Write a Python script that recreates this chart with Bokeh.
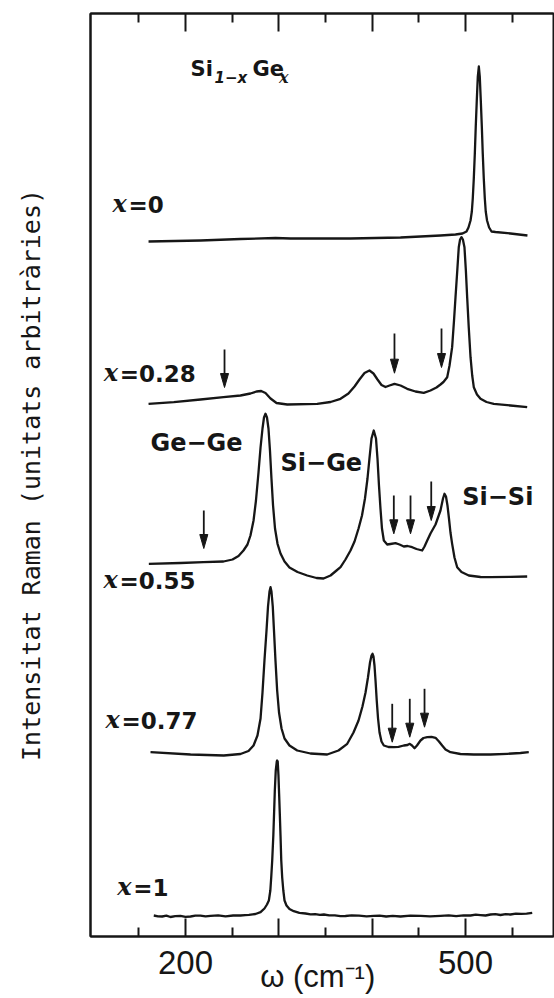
from bokeh.plotting import figure
from bokeh.models import Range1d, LinearAxis, FixedTicker, Label
from bokeh.embed import file_html
from bokeh.resources import INLINE

# ---------------- axis ticks ----------------
major_ticks = [200, 300, 400, 500]
minor_ticks = [150, 250, 350, 450, 550]
tick_labels = {200: "200", 300: "", 400: "", 500: "500"}

# ---------------- spectra (omega in cm^-1, intensity in arbitrary units above each baseline) ----------------
compositions = ["0", "0.28", "0.55", "0.77", "1"]
offsets = [695, 532, 359, 181, 20]

w_x000 = [160.4, 216.1, 258.9, 296.4, 312.5, 376.8, 430.4, 473.2, 489.3, 496.8,
          501.1, 503.2, 505.4, 506.8, 507.8, 508.9, 510.0, 511.0, 512.1, 513.2, 514.3,
          515.3, 516.4, 517.5, 518.5, 519.6, 520.7, 521.7, 523.1, 525.3, 527.9,
          532.1, 548.2, 566.4]
i_x000 = [0, 1, 2.5, 3.5, 3, 3, 4, 6, 7, 8,
          10, 14, 21, 30, 43, 63, 88, 115, 141, 165, 175,
          165, 141, 115, 88, 63, 43, 30, 21, 14, 10,
          9.5, 8, 6]

w_x028 = [160.4, 187.5, 216.1, 240.7, 258.9, 269.6, 276.1, 281.1, 285.7, 291.1, 297.5, 309.0,
          341.1, 355.4, 366.1, 374.6, 381.1, 386.4, 391.8, 397.1, 401.4, 405.7, 410.0, 414.3,
          418.6, 423.9, 430.4, 437.5, 446.4, 455.3, 462.5, 468.9, 473.2, 476.4, 480.4, 482.9,
          485.7, 487.7, 489.3, 491.2, 492.8, 494.2, 495.7, 497.2, 498.9, 500.4, 501.8, 503.5,
          505.4, 507.2, 508.9, 512.3, 516.1, 522.5, 530.3, 548.2, 566.1]
i_x028 = [0.7, 2.3, 5, 7.3, 9, 11, 13, 13.5, 11.5, 6, 1.5, 0,
          0.7, 2.5, 5.7, 11, 18, 25, 31.5, 34, 31, 25, 19.5, 17.5,
          19, 20.7, 19, 15.7, 13, 11.7, 14, 17, 20, 22.5, 27.3, 39,
          57.3, 84, 107.3, 134, 157.3, 165, 167.3, 165, 157.3, 134, 107.3, 77,
          47.3, 29, 17.3, 10, 5.7, 2.5, 0.7, -1, -2.7]

w_x055 = [160.7, 194.6, 219.3, 240.7, 250.4, 256.8, 262.1, 266.4, 269.6, 272.9, 275.5, 278.2,
          280.4, 282.5, 284.1, 285.7, 287.3, 288.9, 290.5, 292.1, 293.8, 295.9, 298.6, 301.8,
          306.1, 311.4, 320.0, 330.4, 340.4, 347.9, 355.4, 361.8, 366.1, 371.4, 376.8, 381.1,
          385.4, 389.1, 392.3, 395.0, 397.1, 399.3, 401.7, 404.1, 405.7, 407.3, 408.9, 410.5,
          412.5, 416.1, 419.6, 425.0, 429.3, 433.9, 437.9, 442.9, 447.5, 453.6, 456.1, 459.0,
          462.5, 467.9, 473.2, 475.9, 477.5, 479.1, 480.7, 482.3, 483.9, 485.7, 488.2, 491.1,
          495.7, 503.5, 516.1, 526.8, 548.2, 566.1]
i_x055 = [13.7, 14.5, 15.3, 16, 18, 21.5, 27, 33, 42, 57, 77, 105,
          130, 149, 160, 163.7, 160, 149, 127, 99, 72, 49, 33.7, 24,
          16, 10, 5.5, 2, -0.5, -1, 2, 7, 10.3, 18, 27, 36,
          49, 62, 79, 99, 119, 139, 147, 139, 119, 92, 69, 49,
          37, 33, 33.5, 34.3, 33, 31, 31.5, 30.3, 28.5, 27, 31, 37,
          44, 53, 67, 79, 83.7, 81, 72, 59, 45, 33.7, 20, 10.3,
          5.5, 2, 0.5, 0.3, 0.7, 1]

w_x077 = [162.5, 205.4, 241.0, 258.9, 267.5, 272.9, 277.1, 280.4, 282.5, 284.6, 286.8, 288.4,
          290.0, 291.1, 292.1, 293.5, 294.8, 296.4, 298.2, 300.2, 302.9, 306.1, 311.4, 319.7,
          333.9, 351.8, 363.9, 373.3, 380.0, 385.4, 389.6, 392.9, 395.5, 397.7, 399.3, 400.4,
          401.4, 402.5, 403.6, 404.9, 406.3, 407.9, 410.0, 412.5, 417.5, 423.2, 428.2, 433.9,
          437.9, 440.3, 442.7, 445.4, 448.0, 451.8, 455.0, 459.0, 463.6, 467.9, 471.6, 475.0,
          478.6, 483.9, 494.6, 508.9, 526.8, 544.7, 558.9, 567.8]
i_x077 = [3.3, 1, 0, 1.5, 4.5, 10, 20, 37, 63, 95, 125, 149,
          164, 168.3, 164, 149, 125, 95, 65, 43, 27, 17, 10, 5,
          2, 1, 5, 11.7, 23, 35, 49, 63, 78, 93, 100, 101.7,
          99, 90, 75, 55, 37, 23, 14, 10, 8.5, 8.3, 8.7, 10,
          10.5, 11.7, 10, 7.3, 10, 15, 17.5, 18.3, 18.7, 17.7, 14, 10,
          6, 3.3, 1.5, 1, 1, 1.7, 2.5, 3.3]

w_x100 = [166.0, 170.5, 175.0, 179.5, 183.9, 189.0, 194.6, 200.0, 205.4, 210.5, 216.0, 221.5,
          226.8, 235.0, 242.9, 251.0, 258.9, 264.0, 268.0, 272.0, 275.0, 280.4,
          284.6, 287.3, 289.3, 290.9, 291.9, 292.9, 294.1, 295.0, 295.7, 296.7, 297.8, 298.2,
          298.8, 299.6, 300.3, 301.1, 301.8, 302.6, 303.6, 304.8, 306.1, 308.2, 311.4, 316.0,
          322.0, 328.6, 334.0, 339.0, 344.0, 348.2, 354.0, 360.0, 366.0, 371.4, 378.0, 386.0,
          394.0, 401.8, 408.0, 415.0, 422.0, 430.4, 441.0, 452.0, 462.0, 473.2, 482.0, 490.0,
          498.0, 505.4, 511.0, 516.0, 521.5, 526.8, 532.0, 537.5, 543.0, 548.2, 554.0, 560.0,
          565.5, 571.5]
i_x100 = [1, 0.2, 0, 0.8, -0.5, 0.4, 0.6, -0.3, 0, 0.9, 0.8, 0.1,
          0.7, 1.2, 0.2, 1.0, 1, 1.3, 1.6, 2.2, 2.5, 4.3,
          8, 12, 16, 26, 40, 56, 81, 106, 126, 146, 155, 156,
          155, 141, 122.7, 101, 81, 56, 39, 26, 16, 11, 7.5, 5.3,
          3.6, 3, 2.1, 2.4, 1.6, 2, 1.1, 1.2, 0.3, 0.5, 1.1, 0.9,
          0.2, 0.7, 0.9, 0, 0.6, 0, 0.8, 0.6, 0.1, 0.7, 1.2, 0.3,
          1.1, 1, 1.8, 1.4, 1.0, 2, 2.4, 1.5, 2.3, 2, 2.9, 2.6,
          2.8, 3.7]

spectra_w = [w_x000, w_x028, w_x055, w_x077, w_x100]
spectra_i = [i_x000, i_x028, i_x055, i_x077, i_x100]

# composition label anchors (omega, y)
comp_label_w = [121.8, 112.5, 112.1, 114.3, 126.8]
comp_label_y = [719, 549.3, 343, 202.7, 36]

# arrows: (omega, y of tail, y of tip)
arrow_w = [241.8, 423.9, 474.3, 219.6, 423.2, 441.1, 463.3, 421.5, 440.3, 456.1]
arrow_top = [587, 603, 608, 426, 441, 441, 455, 232.7, 237.7, 247.7]
arrow_tip = [549, 563.3, 569, 388, 402.7, 402.7, 416, 194.3, 199.3, 209.3]

# band labels
band_text = ["Ge\u2212Ge", "Si\u2212Ge", "Si\u2212Si"]
band_w = [162.5, 301.8, 496.5]
band_y = [479.3, 459.3, 426]

INK = "#161616"

p = figure(width=554, height=998, x_range=Range1d(98.2, 594.3), y_range=Range1d(0, 923),
           output_backend="svg", toolbar_location=None,
           x_axis_type=None, y_axis_type=None,
           min_border_left=90, min_border_right=1, min_border_top=13, min_border_bottom=62)
p.background_fill_color = "white"
p.border_fill_color = "white"
p.outline_line_color = INK
p.outline_line_width = 2

ticker = FixedTicker(ticks=major_ticks, minor_ticks=minor_ticks)

xb = LinearAxis(ticker=ticker, major_label_overrides=tick_labels,
                major_tick_in=18, major_tick_out=0, minor_tick_in=9, minor_tick_out=0,
                major_tick_line_width=2, minor_tick_line_width=2, axis_line_width=2,
                major_tick_line_color=INK, minor_tick_line_color=INK, axis_line_color=INK,
                major_label_standoff=14, major_label_text_font="Liberation Sans",
                major_label_text_font_size="33px", major_label_text_color=INK,
                axis_label="\u03c9  (cm\u207b\u00b9)", axis_label_standoff=-18,
                axis_label_text_font="Liberation Sans", axis_label_text_font_size="31px",
                axis_label_text_font_style="normal", axis_label_text_color=INK)
p.add_layout(xb, "below")

xt = LinearAxis(ticker=ticker, major_label_overrides={200: "", 300: "", 400: "", 500: ""},
                major_tick_in=18, major_tick_out=0, minor_tick_in=9, minor_tick_out=0,
                major_tick_line_width=2, minor_tick_line_width=2, axis_line_width=2,
                major_tick_line_color=INK, minor_tick_line_color=INK, axis_line_color=INK,
                major_label_standoff=0, major_label_text_font_size="0px")
p.add_layout(xt, "above")

yl = LinearAxis(ticker=FixedTicker(ticks=[]), axis_label="Intensitat Raman (unitats arbitràries)",
                axis_label_text_font="DejaVu Sans Mono", axis_label_text_font_size="25px",
                axis_label_text_font_style="normal", axis_label_text_color=INK,
                axis_label_standoff=45, major_tick_in=0, major_tick_out=0,
                minor_tick_in=0, minor_tick_out=0, axis_line_width=2, axis_line_color=INK,
                major_label_text_font_size="0px")
p.add_layout(yl, "left")

# spectra
for w, inten, off in zip(spectra_w, spectra_i, offsets):
    p.line(w, [off + v for v in inten], line_width=2.3, line_color=INK, line_join="round")

# arrows (shaft + narrow filled head)
head_len = 14
head_half = 4.3
p.segment(x0=arrow_w, y0=arrow_top, x1=arrow_w, y1=[t + head_len for t in arrow_tip],
          line_width=1.8, line_color=INK)
p.patches(xs=[[a - head_half, a + head_half, a] for a in arrow_w],
          ys=[[t + head_len, t + head_len, t] for t in arrow_tip],
          fill_color=INK, line_color=INK, line_width=1)

# composition labels: italic x then "=value"
for comp, lw, ly in zip(compositions, comp_label_w, comp_label_y):
    p.add_layout(Label(x=lw, y=ly, text="x", text_font="DejaVu Serif",
                       text_font_style="bold italic", text_font_size="24px", text_color=INK))
    p.add_layout(Label(x=lw, y=ly, x_offset=16, text="=" + comp, text_font="DejaVu Sans",
                       text_font_style="bold", text_font_size="23px", text_color=INK))

# band labels
for t, bw, by in zip(band_text, band_w, band_y):
    p.add_layout(Label(x=bw, y=by, text=t, text_font="DejaVu Sans", text_font_style="bold",
                       text_font_size="24px", text_color=INK))

# title Si_{1-x}Ge_x
p.add_layout(Label(x=205.4, y=856, text="Si", text_font="DejaVu Sans", text_font_style="bold",
                   text_font_size="21px", text_color=INK))
p.add_layout(Label(x=231.1, y=850, text="1\u2212x", text_font="DejaVu Sans", text_font_style="bold italic",
                   text_font_size="15px", text_color=INK))
p.add_layout(Label(x=271.8, y=856, text="Ge", text_font="DejaVu Sans", text_font_style="bold",
                   text_font_size="21px", text_color=INK))
p.add_layout(Label(x=300.2, y=850, text="x", text_font="DejaVu Serif", text_font_style="bold italic",
                   text_font_size="16px", text_color=INK))

open("out.html", "w").write(file_html(p, INLINE))
